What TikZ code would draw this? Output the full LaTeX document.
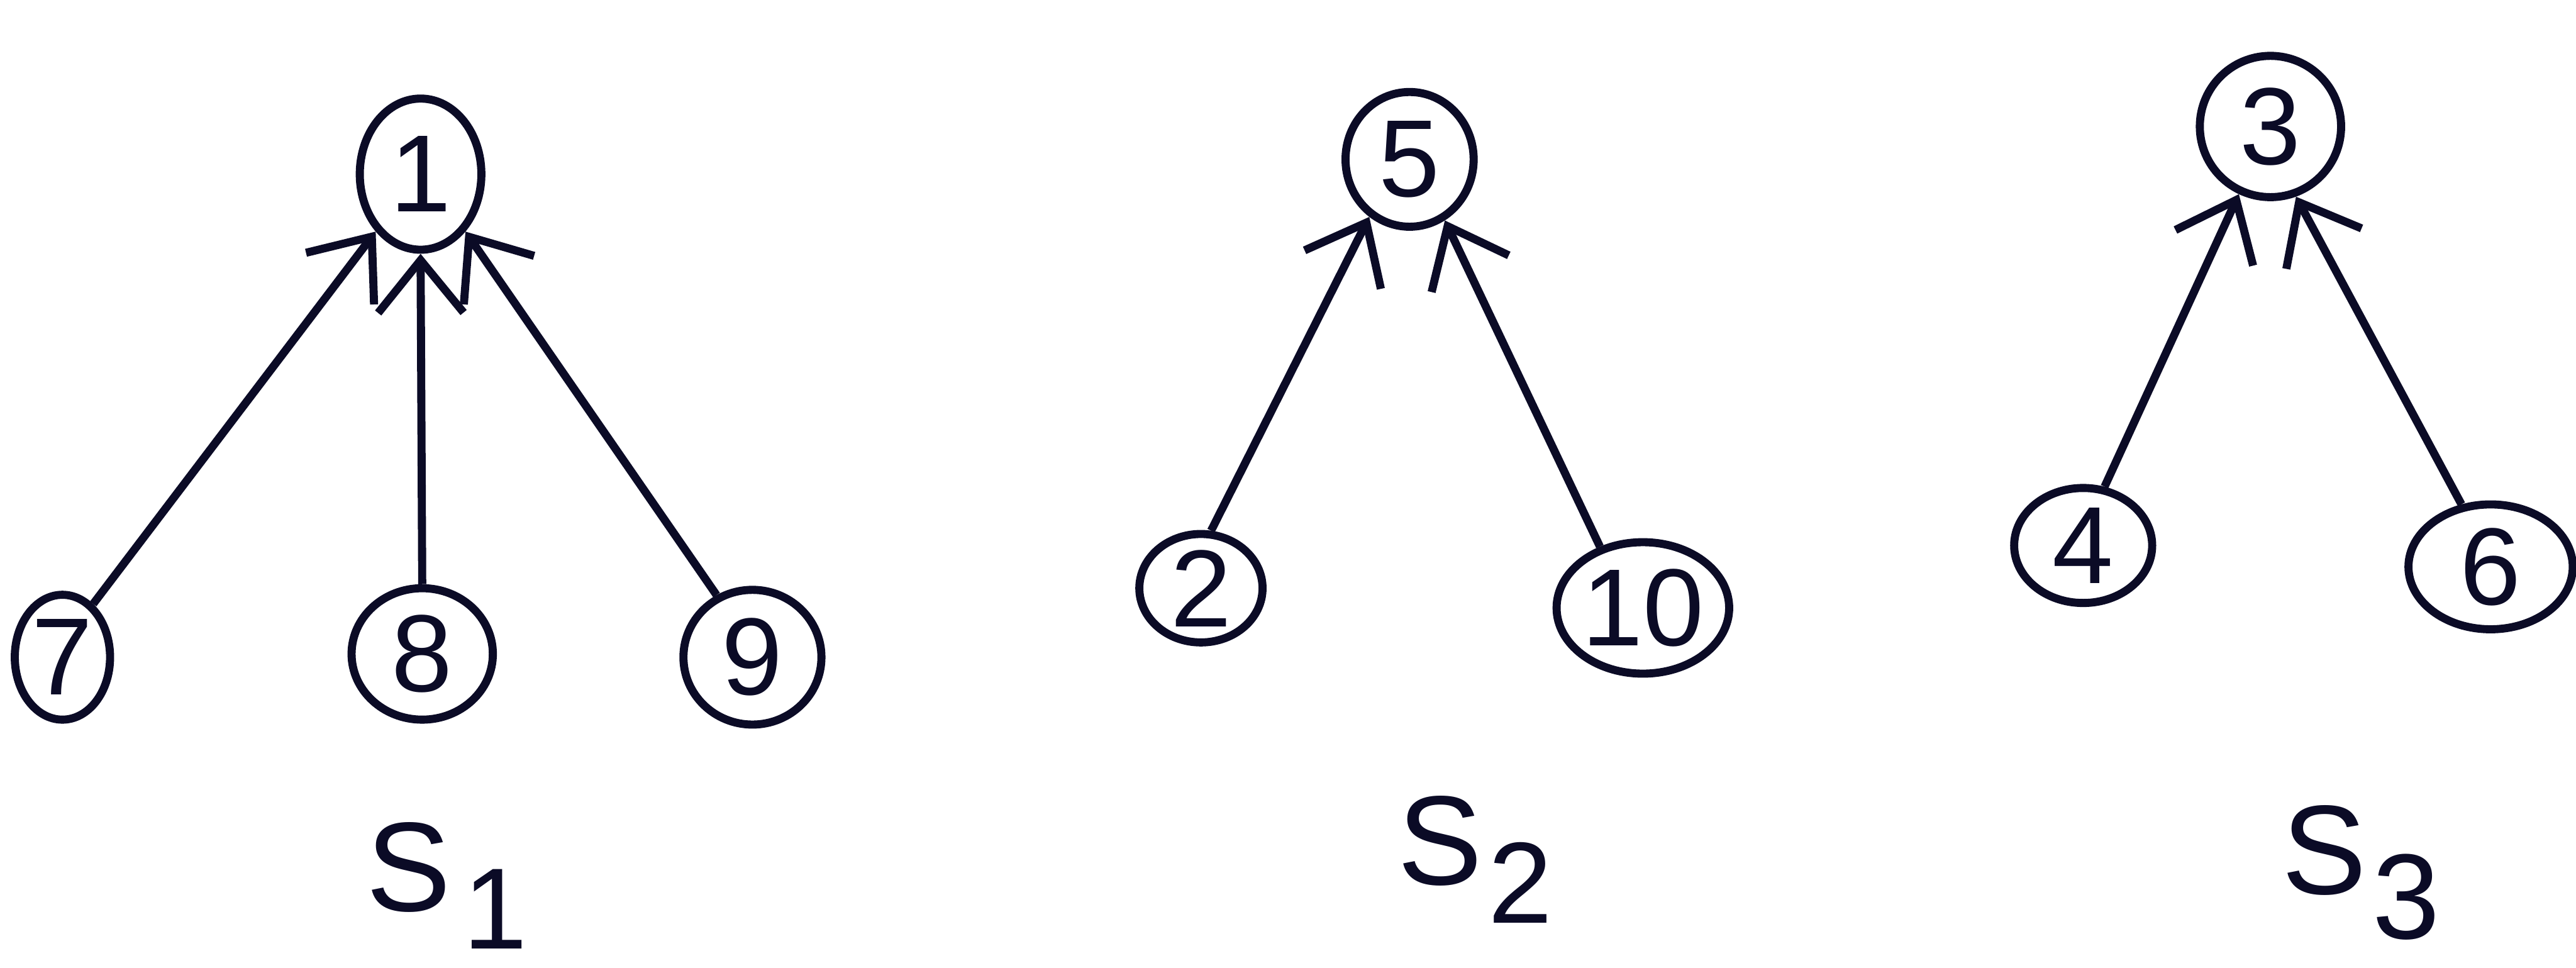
\documentclass[tikz,border=0pt]{standalone}
\usepackage{fontspec}
\setmainfont{Liberation Sans}
\usetikzlibrary{shapes.geometric,arrows.meta}
\definecolor{INK}{HTML}{0B0B26}

\tikzset{
  vtx/.style={ellipse, draw=INK, line width=1.4pt, inner sep=0pt,
              font=\fontsize{19}{19}\selectfont, text=INK},
  link/.style={draw=INK, line width=1.4pt,
               -{Straight Barb[length=3.2mm, width=5.2mm]}},
  setlbl/.style={font=\fontsize{22}{22}\selectfont, text=INK}
}

\begin{document}
\begin{tikzpicture}

    \useasboundingbox (0,0) rectangle (15.68,5.89);

    %% vertices: name/x/y/width/height
    \foreach \lbl/\px/\py/\ew/\eh in {
        1/2.56/4.83/0.74/0.92,
        7/0.38/1.89/0.58/0.76,
        8/2.57/1.91/0.86/0.80,
        9/4.58/1.89/0.84/0.82,
        5/8.58/4.92/0.78/0.82,
        2/7.31/2.31/0.75/0.66,
        10/10.00/2.19/1.05/0.80,
        3/13.82/5.12/0.86/0.86,
        4/12.68/2.57/0.84/0.70,
        6/15.16/2.44/1.00/0.76}{
      \node[vtx, minimum width=\ew cm, minimum height=\eh cm]
        (v\lbl) at (\px,\py) {\lbl};
    }

    %% child -> parent links
    \foreach \ch/\ca/\pa/\pb in {
        7/60/1/232, 8/90/1/270, 9/120/1/308,
        2/80/5/235, 10/125/5/300,
        4/70/3/245, 6/115/3/290}{
      \draw[link] (v\ch.\ca) -- (v\pa.\pb);
    }

    %% set names
    \node[setlbl] (s1) at (2.72,0.50)
      {S\kern2pt\raisebox{-0.3em}{\fontsize{20}{20}\selectfont 1}};
    \node[setlbl] (s2) at (8.98,0.66)
      {S\kern1pt\raisebox{-0.3em}{\fontsize{20}{20}\selectfont 2}};
    \node[setlbl] (s3) at (14.37,0.58)
      {S\kern1pt\raisebox{-0.35em}{\fontsize{21}{21}\selectfont 3}};

\end{tikzpicture}
\end{document}
